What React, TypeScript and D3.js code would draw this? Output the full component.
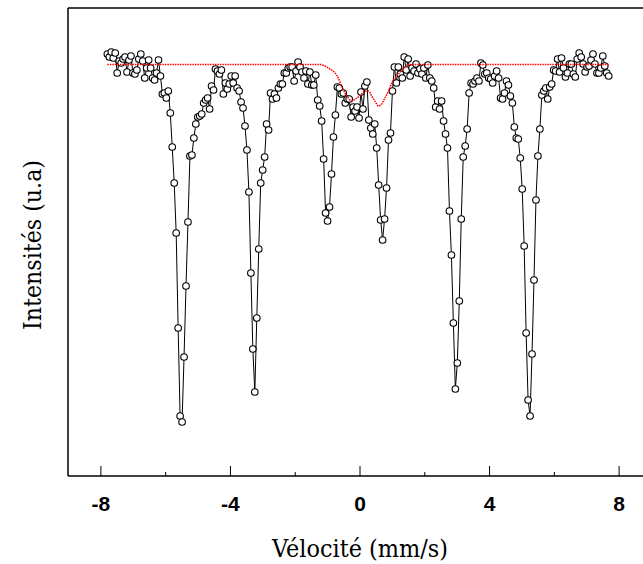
import React from "react";
import * as d3 from "d3";

// channel calibration (mm/s)
const V_START = -7.8;
const V_STEP = 0.0607;

// measured intensities per channel (u.a)
const counts: number[] = [
  422, 419, 424, 418, 423, 403, 415, 413, 417, 419, 404, 416, 420, 403, 402, 406,
  417, 422, 415, 398, 408, 416, 408, 398, 396, 403, 416, 400, 382, 383, 378, 385,
  363, 329, 293, 243, 148, 60, 54, 119, 190, 254, 320, 321, 338, 352, 359, 360,
  362, 373, 376, 378, 367, 390, 386, 407, 405, 402, 406, 382, 393, 387, 392, 400,
  393, 400, 388, 385, 374, 368, 350, 326, 284, 203, 127, 84, 158, 227, 293, 306,
  319, 352, 346, 383, 377, 382, 378, 388, 392, 392, 403, 403, 408, 409, 409, 395,
  405, 414, 409, 404, 398, 405, 392, 404, 391, 391, 401, 376, 370, 355, 317, 263,
  255, 269, 302, 339, 361, 389, 388, 382, 383, 373, 377, 377, 359, 369, 365, 369,
  358, 384, 367, 390, 394, 356, 348, 342, 352, 328, 291, 256, 236, 257, 288, 336,
  343, 385, 409, 393, 409, 402, 398, 419, 406, 417, 400, 408, 405, 412, 403, 407,
  402, 408, 398, 411, 398, 395, 388, 369, 375, 367, 375, 355, 342, 328, 265, 221,
  153, 87, 113, 175, 257, 319, 330, 347, 383, 393, 392, 395, 398, 395, 413, 411,
  402, 403, 398, 397, 393, 400, 405, 398, 378, 377, 383, 395, 391, 380, 373, 349,
  338, 337, 318, 287, 230, 143, 76, 60, 122, 196, 276, 320, 347, 381, 385, 388,
  377, 389, 392, 406, 405, 417, 404, 418, 408, 399, 403, 412, 412, 402, 399, 417,
  423, 419, 412, 404, 409, 410, 416, 422, 412, 403, 403, 408, 420, 410, 403, 400,
];

// fitted doublet component (red)
const fitVel: number[] = [
  -7.8, -1.24, -1.08, -0.93, -0.77, -0.67, -0.57, -0.46, -0.36, -0.26, -0.15, -0.05,
  0.05, 0.15, 0.26, 0.36, 0.46, 0.57, 0.67, 0.77, 0.88, 0.98, 1.08, 1.19, 1.39, 1.61, 7.68,
];
const fitVal: number[] = [
  411.5, 411.5, 410, 407, 403, 398, 390, 383, 378, 375, 377, 379,
  382, 385, 385, 380, 375, 370, 372, 378, 385, 393, 398, 402, 409, 411.5, 411.5,
];

const xTicks = [-8, -4, 0, 4, 8];
const xMinor = [-6, -2, 2, 6];

const W = 643;
const H = 564;
const left = 68;
const top = 8;
const bottom = 476;

const sansStyle = { fontFamily: '"Liberation Sans", Arial, sans-serif' };

export default function App() {
  const x = d3.scaleLinear().domain([-9, 9]).range([left + 0.5, 651.5]);
  const y = d3.scaleLinear().domain([0, 467]).range([bottom, top + 1]);

  const pts = counts.map((c, i) => ({ v: V_START + i * V_STEP, c }));
  const line = d3
    .line<{ v: number; c: number }>()
    .x((d) => x(d.v))
    .y((d) => y(d.c));
  const fitLine = d3
    .line<number>()
    .x((_, i) => x(fitVel[i]))
    .y((d) => y(d))
    .curve(d3.curveMonotoneX);

  return (
    <svg
      width={W}
      height={H}
      style={{ position: "absolute", left: 0, top: 0, background: "#fff" }}
    >
      <path d={line(pts) || ""} fill="none" stroke="#000" strokeWidth={1} />
      {pts.map((d, i) => (
        <circle
          key={i}
          cx={x(d.v)}
          cy={y(d.c)}
          r={3.3}
          fill="#fff"
          stroke="#000"
          strokeWidth={1.1}
        />
      ))}
      <path
        d={fitLine(fitVal) || ""}
        fill="none"
        stroke="#ff0000"
        strokeWidth={1.6}
        strokeDasharray="1.5 1"
      />

      {/* frame */}
      <line x1={left} x2={left} y1={top} y2={bottom} stroke="#000" strokeWidth={1.5} />
      <line x1={left} x2={W} y1={top} y2={top} stroke="#000" strokeWidth={1.5} />
      <line x1={left} x2={W} y1={bottom} y2={bottom} stroke="#000" strokeWidth={1.5} />

      {xTicks.map((t) => (
        <g key={t}>
          <line x1={x(t)} x2={x(t)} y1={bottom} y2={bottom - 10} stroke="#000" strokeWidth={1} />
          <text
            x={x(t)}
            y={bottom + 35}
            textAnchor="middle"
            style={sansStyle}
            fontWeight="bold"
            fontSize={21}
          >
            {t}
          </text>
        </g>
      ))}
      {xMinor.map((t) => (
        <line key={t} x1={x(t)} x2={x(t)} y1={bottom} y2={bottom - 4} stroke="#000" strokeWidth={1} />
      ))}

      <text
        x={360}
        y={557}
        textAnchor="middle"
        fontFamily="DejaVu Serif"
        fontSize={25}
        textLength={176}
        lengthAdjust="spacingAndGlyphs"
      >
        Vélocité (mm/s)
      </text>
      <text
        transform="translate(41,245) rotate(-90)"
        textAnchor="middle"
        fontFamily="DejaVu Serif"
        fontSize={25}
        textLength={170}
        lengthAdjust="spacingAndGlyphs"
      >
        Intensités (u.a)
      </text>
    </svg>
  );
}
